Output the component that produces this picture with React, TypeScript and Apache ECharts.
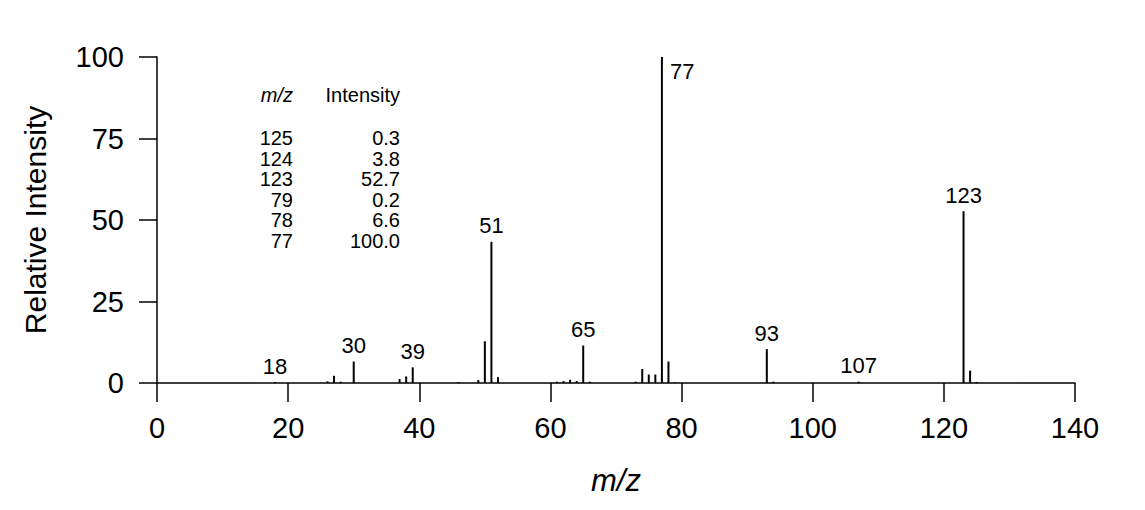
import React, { useEffect, useRef } from "react";
import * as echarts from "echarts";

const mzValues = [18, 26, 27, 28, 30, 37, 38, 39, 46, 49, 50, 51, 52, 61, 62, 63, 64, 65, 66, 73, 74, 75, 76, 77, 78, 79, 93, 94, 107, 123, 124, 125];
const intensities = [0.3, 0.5, 2.2, 0.4, 6.6, 1.2, 2.0, 4.8, 0.3, 0.9, 12.8, 43.3, 1.8, 0.4, 0.6, 1.0, 0.6, 11.5, 0.4, 0.4, 4.3, 2.6, 2.6, 100, 6.6, 0.2, 10.4, 0.4, 0.4, 52.7, 3.8, 0.3];
const labeledPeaks = [18, 30, 39, 51, 65, 77, 93, 107, 123];
const sideLabelPeaks = [77];

const tableMz = ["125", "124", "123", "79", "78", "77"];
const tableIntensity = ["0.3", "3.8", "52.7", "0.2", "6.6", "100.0"];

const xTicks = { min: 0, max: 140, interval: 20 };
const yTicks = { min: 0, max: 100, interval: 25 };

const FONT = "'Liberation Sans', Arial, Helvetica, sans-serif";

export default function App() {
  const ref = useRef<HTMLDivElement>(null);
  useEffect(() => {
    if (!ref.current) return;
    const chart = echarts.init(ref.current, undefined, { renderer: "svg" });

    const data = mzValues.map((m, i) => {
      const item: any = { value: [m, intensities[i]] };
      if (labeledPeaks.includes(m)) {
        if (sideLabelPeaks.includes(m)) {
          item.label = { show: true, position: [9, 3], align: "left", verticalAlign: "top" };
        } else {
          item.label = { show: true, position: "top", distance: 5 };
        }
      }
      return item;
    });

    const graphics: any[] = [
      {
        type: "text",
        x: 293,
        y: 95,
        style: { text: "m/z", font: `italic 20px ${FONT}`, fill: "#000", align: "right", verticalAlign: "middle" },
      },
      {
        type: "text",
        x: 400,
        y: 95,
        style: { text: "Intensity", font: `20px ${FONT}`, fill: "#000", align: "right", verticalAlign: "middle" },
      },
    ];
    tableMz.forEach((m, i) => {
      graphics.push({
        type: "text",
        x: 293,
        y: 138 + i * 20.6,
        style: { text: m, font: `20px ${FONT}`, fill: "#000", align: "right", verticalAlign: "middle" },
      });
      graphics.push({
        type: "text",
        x: 400,
        y: 138 + i * 20.6,
        style: { text: tableIntensity[i], font: `20px ${FONT}`, fill: "#000", align: "right", verticalAlign: "middle" },
      });
    });

    chart.setOption({
      animation: false,
      backgroundColor: "#fff",
      textStyle: { fontFamily: FONT },
      grid: { left: 157, right: 70, top: 57, bottom: 127 },
      xAxis: {
        type: "value",
        min: xTicks.min,
        max: xTicks.max,
        interval: xTicks.interval,
        name: "m/z",
        nameLocation: "middle",
        nameGap: 82,
        nameTextStyle: { fontSize: 31, fontStyle: "italic", color: "#000", fontFamily: FONT },
        axisLine: { show: true, onZero: false, lineStyle: { color: "#000", width: 1.5 } },
        axisTick: { show: true, length: 19, lineStyle: { color: "#000", width: 1.5 } },
        axisLabel: { fontSize: 29, color: "#000", margin: 30, fontFamily: FONT },
        splitLine: { show: false },
      },
      yAxis: {
        type: "value",
        min: yTicks.min,
        max: yTicks.max,
        interval: yTicks.interval,
        name: "Relative Intensity",
        nameLocation: "middle",
        nameGap: 107,
        nameTextStyle: { fontSize: 30, color: "#000", fontFamily: FONT },
        axisLine: { show: true, lineStyle: { color: "#000", width: 1.5 } },
        axisTick: { show: true, length: 18, lineStyle: { color: "#000", width: 1.5 } },
        axisLabel: { fontSize: 29, color: "#000", margin: 33, fontFamily: FONT },
        splitLine: { show: false },
      },
      series: [
        {
          type: "bar",
          barWidth: 2,
          data,
          itemStyle: { color: "#000" },
          label: { show: false, fontSize: 22, color: "#000", fontFamily: FONT, formatter: (p: any) => String(p.value[0]) },
          silent: true,
        },
      ],
      graphic: graphics,
    });
    return () => chart.dispose();
  }, []);
  return <div ref={ref} style={{ position: "absolute", left: 0, top: 0, width: 1145, height: 510 }} />;
}
